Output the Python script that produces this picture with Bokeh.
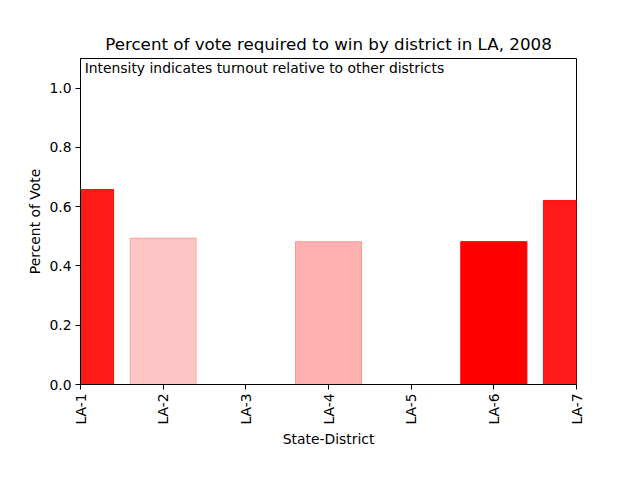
from math import pi
from bokeh.plotting import figure
from bokeh.models import Range1d, Label, FixedTicker, ColumnDataSource
from bokeh.embed import file_html
from bokeh.resources import INLINE

districts = ["LA-1", "LA-2", "LA-3", "LA-4", "LA-5", "LA-6", "LA-7"]
pct_to_win = [0.658, 0.494, 0.0, 0.482, 0.0, 0.482, 0.621]
intensity = [0.9, 0.23, 0.0, 0.31, 0.0, 1.0, 0.9]
y_ticks = [0.0, 0.2, 0.4, 0.6, 0.8, 1.0]

xs = list(range(len(districts)))
src = ColumnDataSource(dict(x=xs, top=pct_to_win, a=intensity))

FONT = "DejaVu Sans"
p = figure(width=624, height=464, output_backend="svg", toolbar_location=None,
           x_range=Range1d(0, len(districts) - 1), y_range=Range1d(0, 1.1),
           title="Percent of vote required to win by district in LA, 2008",
           min_border_left=80, min_border_right=48, min_border_top=58, min_border_bottom=80)
p.title.align = "center"
p.title.text_font = FONT
p.title.text_font_size = "16.7px"
p.title.text_font_style = "normal"
p.title.text_color = "black"

p.vbar(x="x", top="top", width=0.8, bottom=0, source=src, fill_color="red",
       fill_alpha="a", line_color="red", line_alpha="a", line_width=1)

p.xgrid.visible = False
p.ygrid.visible = False
p.outline_line_color = "black"
p.outline_line_alpha = 1
p.outline_line_width = 1

p.xaxis.ticker = FixedTicker(ticks=xs)
p.xaxis.major_label_overrides = {i: d for i, d in enumerate(districts)}
p.xaxis.major_label_orientation = pi / 2
p.yaxis.ticker = FixedTicker(ticks=y_ticks)
p.yaxis.major_label_overrides = {v: f"{v:.1f}" for v in y_ticks}
p.xaxis.axis_label = "State-District"
p.yaxis.axis_label = "Percent of Vote"
for ax in (p.xaxis, p.yaxis):
    ax.minor_tick_line_color = None
    ax.major_tick_in = 0
    ax.major_tick_out = 5
    ax.major_label_text_font = FONT
    ax.major_label_text_font_size = "13.9px"
    ax.major_label_text_color = "black"
    ax.axis_label_text_font = FONT
    ax.axis_label_text_font_size = "13.9px"
    ax.axis_label_text_font_style = "normal"
    ax.axis_label_text_color = "black"
    ax.axis_line_color = "black"
    ax.major_tick_line_color = "black"
    ax.major_label_standoff = 4
    ax.axis_label_standoff = 3

p.add_layout(Label(x=0.05, y=1.1, y_offset=-1, text="Intensity indicates turnout relative to other districts",
                   text_font=FONT, text_font_size="13.9px", text_baseline="top", text_align="left",
                   text_color="black"))

open("out.html", "w").write(file_html(p, INLINE))
